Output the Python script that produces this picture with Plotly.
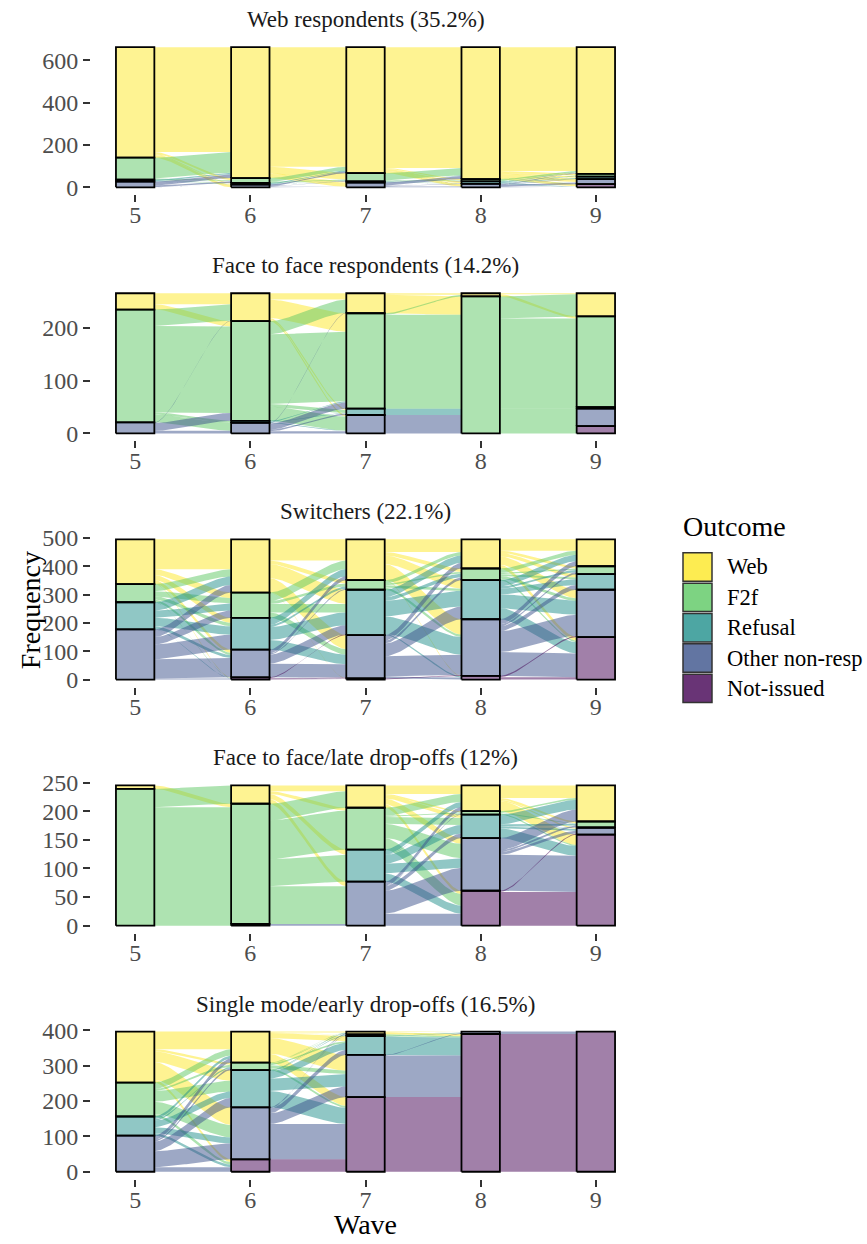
import numpy as np
import plotly.graph_objects as go

# ---------------- data ----------------
WAVES = [5, 6, 7, 8, 9]
OUTCOMES = ["Web", "F2f", "Refusal", "Other non-resp", "Not-issued"]
PANEL_TITLES = [
    "Web respondents (35.2%)",
    "Face to face respondents (14.2%)",
    "Switchers (22.1%)",
    "Face to face/late drop-offs (12%)",
    "Single mode/early drop-offs (16.5%)",
]
Y_TICKS = [
    [0, 200, 400, 600],
    [0, 100, 200],
    [0, 100, 200, 300, 400, 500],
    [0, 50, 100, 150, 200, 250],
    [0, 100, 200, 300, 400],
]

# transition counts: rows = outcome at wave t, cols = outcome at wave t+1
# order: Web, F2f, Refusal, Other non-resp, Not-issued
web_5_6 = [[495, 10, 4, 13, 0], [98, 4, 2, 0, 0], [7, 1, 1, 0, 0], [18, 8, 1, 0, 0], [0, 0, 0, 0, 0]]
web_6_7 = [[565, 30, 3, 20, 0], [18, 4, 1, 0, 0], [5, 2, 1, 0, 0], [7, 3, 0, 3, 0], [0, 0, 0, 0, 0]]
web_7_8 = [[570, 5, 8, 12, 0], [35, 3, 1, 0, 0], [3, 1, 1, 0, 0], [15, 2, 2, 4, 0], [0, 0, 0, 0, 0]]
web_8_9 = [[585, 8, 6, 14, 10], [7, 3, 1, 0, 0], [3, 1, 4, 2, 2], [3, 1, 1, 8, 3], [0, 0, 0, 0, 0]]

f2f_5_6 = [[21, 10, 0, 0, 0], [31, 164, 4, 15, 0], [0, 0, 0, 0, 0], [1, 15, 0, 5, 0], [0, 0, 0, 0, 0]]
f2f_6_7 = [[12, 35, 3, 3, 0], [25, 132, 5, 27, 0], [0, 2, 1, 1, 0], [1, 12, 3, 4, 0], [0, 0, 0, 0, 0]]
f2f_7_8 = [[3, 35, 0, 0, 0], [3, 178, 0, 0, 0], [0, 12, 0, 0, 0], [0, 35, 0, 0, 0], [0, 0, 0, 0, 0]]
f2f_8_9 = [[2, 4, 0, 0, 0], [42, 168, 3, 33, 14], [0, 0, 0, 0, 0], [0, 0, 0, 0, 0], [0, 0, 0, 0, 0]]

sw_5_6 = [[106, 20, 18, 12, 2], [25, 18, 12, 8, 1], [30, 25, 30, 10, 1], [27, 26, 52, 68, 4], [0, 0, 0, 0, 0]]
sw_6_7 = [[75, 12, 50, 50, 1], [30, 10, 30, 19, 0], [25, 8, 45, 34, 0], [14, 4, 32, 47, 1], [0, 0, 3, 3, 2]]
sw_7_8 = [[45, 12, 30, 55, 2], [12, 6, 8, 8, 0], [26, 13, 55, 62, 4], [20, 10, 45, 71, 7], [0, 0, 0, 4, 0]]
sw_8_9 = [[40, 8, 12, 30, 13], [15, 5, 6, 10, 5], [22, 8, 20, 48, 40], [18, 7, 17, 74, 84], [0, 0, 0, 5, 8]]

late_5_6 = [[0, 6, 0, 0, 0], [32, 204, 0, 3, 0], [0, 0, 0, 0, 0], [0, 0, 0, 0, 0], [0, 0, 0, 0, 0]]
late_6_7 = [[10, 5, 9, 8, 0], [29, 68, 47, 66, 0], [0, 0, 0, 0, 0], [0, 0, 0, 3, 0], [0, 0, 0, 0, 0]]
late_7_8 = [[15, 2, 6, 10, 6], [14, 2, 12, 25, 20], [9, 1, 15, 17, 14], [7, 1, 8, 40, 21], [0, 0, 0, 0, 0]]
late_8_9 = [[22, 3, 0, 2, 18], [3, 1, 0, 0, 2], [17, 3, 1, 3, 17], [21, 3, 0, 5, 63], [0, 0, 0, 2, 59]]

early_5_6 = [[50, 6, 30, 50, 8], [18, 6, 30, 35, 7], [8, 4, 18, 17, 7], [12, 5, 27, 45, 13], [0, 0, 0, 0, 0]]
early_6_7 = [[3, 1, 14, 45, 25], [1, 1, 5, 9, 5], [2, 2, 20, 35, 46], [2, 1, 14, 30, 100], [0, 0, 0, 0, 35]]
early_7_8 = [[0, 0, 0, 2, 6], [0, 0, 0, 1, 4], [0, 0, 0, 2, 51], [0, 0, 0, 2, 117], [0, 0, 0, 0, 211]]
early_8_9 = [[0, 0, 0, 0, 0], [0, 0, 0, 0, 0], [0, 0, 0, 0, 0], [0, 0, 0, 0, 7], [0, 0, 0, 0, 389]]

PANELS = [
    [web_5_6, web_6_7, web_7_8, web_8_9],
    [f2f_5_6, f2f_6_7, f2f_7_8, f2f_8_9],
    [sw_5_6, sw_6_7, sw_7_8, sw_8_9],
    [late_5_6, late_6_7, late_7_8, late_8_9],
    [early_5_6, early_6_7, early_7_8, early_8_9],
]

# ---------------- style ----------------
VIRIDIS = ["#FDE725", "#5DC863", "#21908C", "#3B528B", "#440154"]
FONT = "Liberation Serif, Times New Roman, Times, DejaVu Serif, serif"
W_PX, H_PX = 867, 1244
PLOT_L, PLOT_R = 91, 640
PANEL_TOP0, PANEL_STEP, PANEL_H = 32.5, 248.9, 156
BAR_W = 1 / 3


def rgba(hexc, a):
    h = hexc.lstrip("#")
    r, g, b = int(h[0:2], 16), int(h[2:4], 16), int(h[4:6], 16)
    return f"rgba({r},{g},{b},{a})"


def px_x(p):
    return p / W_PX


def px_y(p):
    return 1 - p / H_PX


fig = go.Figure()
layout_axes = {}

t = np.linspace(0, 1, 48)
bx = 3 * (1 - t) ** 2 * t * 0.25 + 3 * (1 - t) * t ** 2 * 0.75 + t ** 3
by = t ** 2 * (3 - 2 * t)

for p, trans in enumerate(PANELS):
    T = [np.array(m, dtype=float) for m in trans]
    counts = [T[0].sum(axis=1)] + [m.sum(axis=0) for m in T]
    total = counts[0].sum()
    bases = []
    for c in counts:
        b = np.array([c[k + 1:].sum() for k in range(5)])
        bases.append(b)
    xa = "x" if p == 0 else f"x{p + 1}"
    ya = "y" if p == 0 else f"y{p + 1}"

    # flows
    for k, M in enumerate(T):
        lc = bases[k] + counts[k]
        rc = bases[k + 1] + counts[k + 1]
        left = {}
        for i in range(5):
            cur = lc[i]
            for j in range(5):
                m = M[i, j]
                if m > 0:
                    left[(i, j)] = (cur, cur - m)
                    cur -= m
        right = {}
        for j in range(5):
            cur = rc[j]
            for i in range(5):
                m = M[i, j]
                if m > 0:
                    right[(i, j)] = (cur, cur - m)
                    cur -= m
        x0 = WAVES[k] + BAR_W / 2
        x1 = WAVES[k + 1] - BAR_W / 2
        for (i, j), (lt, lb) in left.items():
            rt, rb = right[(i, j)]
            xs = x0 + (x1 - x0) * bx
            ytop = lt + (rt - lt) * by
            ybot = lb + (rb - lb) * by
            fig.add_trace(go.Scatter(
                x=np.concatenate([xs, xs[::-1]]),
                y=np.concatenate([ytop, ybot[::-1]]),
                mode="lines", fill="toself", line=dict(width=0),
                fillcolor=rgba(VIRIDIS[i], 0.5),
                hoverinfo="skip", showlegend=False, xaxis=xa, yaxis=ya))

    # strata
    for k, w in enumerate(WAVES):
        for c in range(5):
            n = counts[k][c]
            if n <= 0:
                continue
            b = bases[k][c]
            fig.add_trace(go.Scatter(
                x=[w - BAR_W / 2, w + BAR_W / 2, w + BAR_W / 2, w - BAR_W / 2, w - BAR_W / 2],
                y=[b, b, b + n, b + n, b],
                mode="lines", fill="toself",
                fillcolor=rgba(VIRIDIS[c], 0.5),
                line=dict(color="black", width=1.8),
                hoverinfo="skip", showlegend=False, xaxis=xa, yaxis=ya))

    top_px = PANEL_TOP0 + p * PANEL_STEP
    ydom = [px_y(top_px + PANEL_H), px_y(top_px)]
    axis_common = dict(showgrid=False, zeroline=False, showline=False,
                       ticks="outside", ticklen=7, tickwidth=2.4, tickcolor="#333333",
                       tickfont=dict(family=FONT, size=24, color="#4D4D4D"))
    layout_axes["xaxis" if p == 0 else f"xaxis{p + 1}"] = dict(
        domain=[px_x(PLOT_L), px_x(PLOT_R)], anchor=ya,
        range=[WAVES[0] - BAR_W / 2 - 0.05 * (WAVES[-1] - WAVES[0] + BAR_W),
               WAVES[-1] + BAR_W / 2 + 0.05 * (WAVES[-1] - WAVES[0] + BAR_W)],
        tickvals=WAVES, ticktext=[str(w) for w in WAVES], ticklabelstandoff=-8,
        **axis_common)
    layout_axes["yaxis" if p == 0 else f"yaxis{p + 1}"] = dict(
        domain=ydom, anchor=xa, range=[-0.05 * total, 1.05 * total],
        tickvals=Y_TICKS[p], ticktext=[str(v) for v in Y_TICKS[p]], **axis_common)

annotations = []
for p, title in enumerate(PANEL_TITLES):
    top_px = PANEL_TOP0 + p * PANEL_STEP
    annotations.append(dict(
        text=title, xref="paper", yref="paper",
        x=px_x((PLOT_L + PLOT_R) / 2), y=px_y(top_px), xanchor="center", yanchor="bottom",
        yshift=6, showarrow=False, font=dict(family=FONT, size=23, color="#1A1A1A")))

annotations.append(dict(text="Frequency", xref="paper", yref="paper", x=px_x(30), y=px_y(609),
                        xanchor="center", yanchor="middle", textangle=-90, showarrow=False,
                        font=dict(family=FONT, size=28, color="black")))
annotations.append(dict(text="Wave", xref="paper", yref="paper", x=px_x((PLOT_L + PLOT_R) / 2),
                        y=px_y(1230), xanchor="center", yanchor="middle", showarrow=False,
                        font=dict(family=FONT, size=28, color="black")))

# legend (manual)
shapes = []
annotations.append(dict(text="Outcome", xref="paper", yref="paper", x=px_x(681), y=px_y(524),
                        xanchor="left", yanchor="middle", showarrow=False,
                        font=dict(family=FONT, size=28, color="black")))
KEY_TOP, KEY_H, KEY_L, KEY_R = 550, 30.7, 683, 712
for c, name in enumerate(OUTCOMES):
    y0 = KEY_TOP + c * KEY_H
    shapes.append(dict(type="rect", xref="paper", yref="paper",
                       x0=px_x(KEY_L), x1=px_x(KEY_R), y0=px_y(y0 + KEY_H - 1), y1=px_y(y0 + 1),
                       fillcolor=rgba(VIRIDIS[c], 0.8), line=dict(color="#333333", width=1.5)))
    annotations.append(dict(text=name, xref="paper", yref="paper", x=px_x(725), y=px_y(y0 + KEY_H / 2),
                            xanchor="left", yanchor="middle", showarrow=False,
                            font=dict(family=FONT, size=22.5, color="black")))

fig.update_layout(
    width=W_PX, height=H_PX, autosize=False,
    margin=dict(l=0, r=0, t=0, b=0),
    paper_bgcolor="white", plot_bgcolor="white",
    showlegend=False, annotations=annotations, shapes=shapes,
    **layout_axes)

fig.write_html("out.html", config={"displayModeBar": False},
               post_script="document.body.style.margin='0';document.body.style.padding='0';")
